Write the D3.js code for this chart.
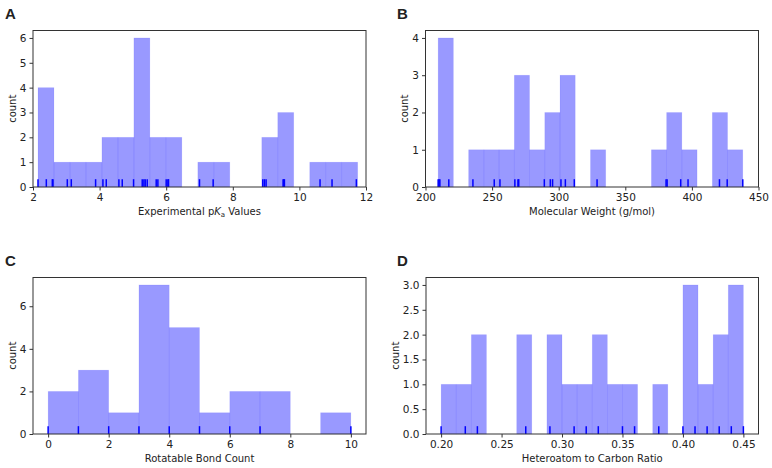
<!DOCTYPE html>
<html><head><meta charset="utf-8">
<script src="https://cdn.jsdelivr.net/npm/d3@7"></script>
<style>
html,body{margin:0;padding:0;background:#fff;}
svg text{font-family:"DejaVu Sans",sans-serif;fill:#222;}
</style></head>
<body><svg id="chart" width="772" height="468"></svg>
<script>
// ---- Panel A: Experimental pKa
const pkaRange = [2.15, 11.75];
const pkaCounts = [4,1,1,1,2,2,6,2,2,0,1,1,0,0,2,3,0,1,1,1];
const pkaRug = [2.15,2.40,2.58,2.60,3.03,3.15,3.88,4.10,4.20,4.58,4.68,5.02,5.28,5.33,5.37,5.43,5.70,5.75,6.00,6.05,6.07,7.00,7.41,8.90,8.95,9.00,9.51,9.53,9.55,10.62,10.98,11.71];
const pkaXTicks = [2,4,6,8,10,12];
const pkaYTicks = [0,1,2,3,4,5,6];

// ---- Panel B: Molecular weight
const mwRange = [209.5, 438.2];
const mwCounts = [4,0,1,1,1,3,1,2,3,0,1,0,0,0,1,2,1,0,2,1];
const mwRug = [209.5,210.2,210.8,217.5,235.6,251.6,255.9,267.1,269.4,270.0,289.2,293.7,295.4,301.7,305.0,311.7,328.8,380.6,381.4,391.6,397.1,420.7,426.5,438.2];
const mwXTicks = [200,250,300,350,400,450];
const mwYTicks = [0,1,2,3,4];

// ---- Panel C: Rotatable bond count
const rbRange = [0, 10];
const rbCounts = [2,3,1,7,5,1,2,2,0,1];
const rbRug = [0,1,2,3,4,5,6,7,10];
const rbXTicks = [0,2,4,6,8,10];
const rbYTicks = [0,2,4,6];

// ---- Panel D: Heteroatom to carbon ratio
const hcRange = [0.20, 0.45];
const hcCounts = [1,1,2,0,0,2,0,2,1,1,2,1,1,0,1,0,3,1,2,3];
const hcRug = [0.20,0.22,0.23,0.27,0.29,0.31,0.32,0.33,0.35,0.36,0.38,0.40,0.41,0.42,0.43,0.44,0.45];
const hcXTicks = [0.20,0.25,0.30,0.35,0.40,0.45];
const hcYTicks = [0,0.5,1.0,1.5,2.0,2.5,3.0];

const svg = d3.select("#chart");

function panel(o){
  const g = svg.append("g");
  const x = d3.scaleLinear().domain(o.xDomain).range([o.left, o.right]);
  const y = d3.scaleLinear().domain(o.yDomain).range([o.bottom, o.top]);
  const n = o.counts.length;
  const edges = d3.range(n+1).map(i => o.range[0] + (o.range[1]-o.range[0])*i/n);
  const bins = o.counts.map((c,i)=>({x0:edges[i], x1:edges[i+1], c}));
  g.selectAll("rect.bar").data(bins.filter(b=>b.c>0)).join("rect")
    .attr("class","bar")
    .attr("x", d=>x(d.x0)).attr("width", d=>x(d.x1)-x(d.x0))
    .attr("y", d=>y(d.c)).attr("height", d=>y(0)-y(d.c))
    .attr("fill","#0000ff").attr("fill-opacity",0.4)
    .attr("stroke","#0000ff").attr("stroke-opacity",0.08).attr("stroke-width",0.8);
  const rugH = 0.05*(o.bottom-o.top);
  g.selectAll("line.rug").data(o.rug).join("line")
    .attr("class","rug")
    .attr("x1", d=>x(d)).attr("x2", d=>x(d))
    .attr("y1", y(0)).attr("y2", y(0)-rugH)
    .attr("stroke","#0000ff").attr("stroke-width",1.5);
  g.append("rect").attr("x",o.left).attr("y",o.top)
    .attr("width",o.right-o.left).attr("height",o.bottom-o.top)
    .attr("fill","none").attr("stroke","#333").attr("stroke-width",1);
  const xa = g.append("g").attr("transform",`translate(0,${o.bottom})`)
    .call(d3.axisBottom(x).tickValues(o.xTicks).tickFormat(o.xFmt).tickSize(3.5).tickPadding(3));
  const ya = g.append("g").attr("transform",`translate(${o.left},0)`)
    .call(d3.axisLeft(y).tickValues(o.yTicks).tickFormat(o.yFmt).tickSize(3.5).tickPadding(3));
  [xa,ya].forEach(a=>{
    a.select(".domain").remove();
    a.selectAll(".tick line").attr("stroke","#333");
    a.selectAll(".tick text").attr("font-size",10.5).attr("fill","#222")
      .style("font-family","'DejaVu Sans',sans-serif");
  });
  let maxW = 0;
  ya.selectAll(".tick text").each(function(){ maxW = Math.max(maxW, this.getBBox().width); });
  const xl = g.append("text").attr("x",(o.left+o.right)/2).attr("y",o.bottom+28)
    .attr("text-anchor","middle").attr("font-size",10);
  o.xLabel(xl);
  g.append("text").attr("transform",`translate(${o.left-3.5-3-maxW-4},${(o.top+o.bottom)/2}) rotate(-90)`)
    .attr("text-anchor","middle").attr("font-size",10).text("count");
  svg.append("text").attr("x",o.lx).attr("y",o.ly).attr("font-size",15)
    .attr("font-weight","bold").style("font-family","'Liberation Sans',Arial,sans-serif")
    .attr("fill","#000").text(o.letter);
}

const intF = d3.format("d");
panel({letter:"A", lx:5, ly:19, left:33, right:366, top:30.5, bottom:187,
  xDomain:[2,12], yDomain:[0,6.3], range:pkaRange, counts:pkaCounts, rug:pkaRug,
  xTicks:pkaXTicks, yTicks:pkaYTicks, xFmt:intF, yFmt:intF,
  xLabel:t=>{t.append("tspan").text("Experimental p");
    t.append("tspan").attr("font-style","italic").text("K");
    t.append("tspan").attr("font-size",7).attr("dy",2).text("a");
    t.append("tspan").attr("dy",-2).text(" Values");}});
panel({letter:"B", lx:397, ly:19, left:425.5, right:758.5, top:30.5, bottom:187,
  xDomain:[200,450], yDomain:[0,4.2], range:mwRange, counts:mwCounts, rug:mwRug,
  xTicks:mwXTicks, yTicks:mwYTicks, xFmt:intF, yFmt:intF,
  xLabel:t=>t.text("Molecular Weight (g/mol)")});
panel({letter:"C", lx:5, ly:266, left:33, right:366, top:277.5, bottom:434,
  xDomain:[-0.5,10.5], yDomain:[0,7.35], range:rbRange, counts:rbCounts, rug:rbRug,
  xTicks:rbXTicks, yTicks:rbYTicks, xFmt:intF, yFmt:intF,
  xLabel:t=>t.text("Rotatable Bond Count")});
panel({letter:"D", lx:397, ly:266, left:426, right:758.5, top:277.5, bottom:434,
  xDomain:[0.1875,0.4625], yDomain:[0,3.15], range:hcRange, counts:hcCounts, rug:hcRug,
  xTicks:hcXTicks, yTicks:hcYTicks, xFmt:d3.format(".2f"), yFmt:d3.format(".1f"),
  xLabel:t=>t.text("Heteroatom to Carbon Ratio")});
</script></body></html>
